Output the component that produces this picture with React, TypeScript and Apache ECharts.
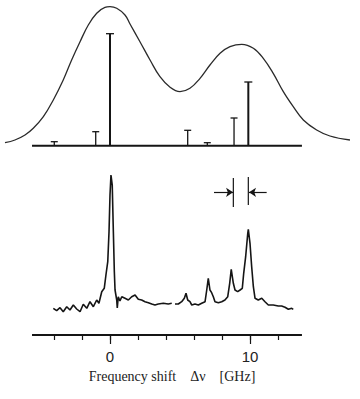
import React, { useEffect, useRef } from "react";
import * as echarts from "echarts";

// Calculated envelope (upper panel), frequency shift in GHz and relative intensity
const envelopeGHz = [-7.5, -6.79, -6.07, -5.48, -4.76, -4.05, -3.34, -2.74, -2.14, -1.55, -0.95, -0.36, 0, 0.48, 1.07, 1.43, 2.14, 2.86, 3.57, 4.29, 5.0, 5.71, 6.43, 7.14, 7.86, 8.57, 9.41, 10.24, 10.95, 11.66, 12.38, 13.09, 13.81, 14.76, 15.71, 17.14];
const envelopeValue = [3.0, 5.7, 10.7, 17.4, 29, 45.7, 65.7, 85.7, 104, 120.7, 132.4, 138.4, 139, 137.4, 130.7, 121.7, 104, 85.7, 69, 58.4, 54, 57.4, 67.4, 80.7, 92.4, 99, 101.4, 97.4, 87.4, 72.4, 54, 39, 25.7, 15.7, 9.7, 5.7];

// Stick spectrum (upper panel)
const stickGHz = [-3.98, -1.02, 0, 5.55, 6.95, 8.86, 9.88];
const stickHeight = [4, 14, 112, 15.4, 3, 27.7, 63.7];

// Measured spectrum (lower panel); null = gap in the trace
const spectrumGHz = [-4.05, -3.81, -3.57, -3.34, -3.09, -2.86, -2.62, -2.38, -2.14, -1.91, -1.66, -1.43, -1.19, -0.95, -0.79, -0.59, -0.41, -0.29, -0.16, -0.07, 0, 0.07, 0.16, 0.24, 0.31, 0.36, 0.48, 0.52, 0.59, 0.71, 0.84, 1.07, 1.31, 1.55, 1.79, 2.02, 2.26, 2.5, 2.74, 2.98, 3.21, 3.45, 3.81, 4.16, 4.41, 4.52, 4.64, 4.88, 5.12, 5.31, 5.43, 5.55, 5.71, 5.84, 6.07, 6.31, 6.55, 6.79, 6.91, 7.02, 7.14, 7.26, 7.38, 7.5, 7.74, 7.98, 8.21, 8.41, 8.55, 8.66, 8.81, 8.93, 9.12, 9.29, 9.45, 9.55, 9.69, 9.84, 9.88, 10.0, 10.12, 10.24, 10.36, 10.59, 10.84, 11.07, 11.31, 11.66, 12.02, 12.26, 12.5, 12.74, 12.98, 13.09];
const spectrumValue: (number | null)[] = [26.7, 24.3, 27.3, 23.3, 28.3, 25, 30, 26, 23.3, 30.7, 26.7, 33.3, 28.3, 35, 31.7, 43.3, 46.7, 60, 73.3, 103.3, 140, 160, 150, 103.3, 63.3, 45, 35, 27, 38.3, 34, 38.3, 36.7, 35, 38.3, 40, 35.7, 35, 33.3, 32.3, 31, 30, 31, 31.7, 31, 31.7, null, 31, 31, 33.3, 36.7, 41.7, 35, 33.3, 30, 31, 30, 31.7, 33.3, 45, 56.7, 45, 42.3, 38.3, 33.3, 32.3, 33.3, 35, 38.3, 51.7, 65.7, 51.7, 45, 43.3, 45, 46.7, 61.7, 78.3, 101.7, 105.7, 91.7, 68.3, 48.3, 36.7, 35, 36.7, 33.3, 30, 30, 29, 29, 27.7, 25.7, 26.7, 25.7];

// Axis
const axisExtentGHz = [-5.57, 13.71];
const tickValues = [-4, -2, 0, 2, 4, 6, 8, 10, 12];
const labelValues = [0, 10];
const axisTitle = "Frequency shift    Δν    [GHz]";

// Resolution marker (lower panel)
const markerGHz = [8.81, 9.88];
const markerLow = [128, 130];
const markerHigh = [157, 158];
const arrowLevel = 142.7;
const arrowFromGHz = [7.43, 11.19];
const arrowToGHz = [8.79, 9.93];

const X_MIN = -7.5;
const X_MAX = 17.142857;
const INK = "#151515";

export default function App() {
  const ref = useRef<HTMLDivElement>(null);

  useEffect(() => {
    if (!ref.current) return;
    const chart = echarts.init(ref.current, undefined, { renderer: "svg" });

    const gridBase = { left: 5, width: 345, containLabel: false, outerBoundsMode: "none" } as any;
    const hiddenX = (gridIndex: number) => ({ gridIndex, type: "value", min: X_MIN, max: X_MAX, show: false });

    const option: any = {
      animation: false,
      backgroundColor: "#ffffff",
      grid: [
        { ...gridBase, top: 5.7, height: 140 },
        { ...gridBase, top: 170, height: 165 },
        { ...gridBase, top: 170, height: 165 },
      ],
      xAxis: [
        hiddenX(0),
        {
          gridIndex: 1,
          type: "value",
          min: X_MIN,
          max: X_MAX,
          axisLine: { show: false },
          splitLine: { show: false },
          axisTick: { show: true, inside: false, length: 5, customValues: tickValues, lineStyle: { color: INK, width: 1.2 } },
          axisLabel: { show: false },
        },
        {
          gridIndex: 2,
          type: "value",
          min: X_MIN,
          max: X_MAX,
          axisLine: { show: false },
          splitLine: { show: false },
          axisTick: { show: true, inside: false, length: 9, customValues: labelValues, lineStyle: { color: INK, width: 1.2 } },
          axisLabel: {
            show: true,
            customValues: labelValues,
            margin: 14,
            fontSize: 15,
            fontFamily: "Liberation Sans",
            color: "#222",
          },
        },
      ],
      yAxis: [
        { gridIndex: 0, type: "value", min: 0, max: 140, show: false },
        { gridIndex: 1, type: "value", min: 0, max: 165, show: false },
        { gridIndex: 2, type: "value", min: 0, max: 165, show: false },
      ],
      graphic: [
        {
          type: "text",
          x: 172,
          y: 376,
          style: {
            text: axisTitle,
            fontFamily: "Liberation Serif",
            fontSize: 14,
            fill: "#222",
            textAlign: "center",
            textVerticalAlign: "middle",
          },
        },
      ],
      series: [
        {
          type: "line",
          xAxisIndex: 0,
          yAxisIndex: 0,
          data: envelopeGHz.map((x, i) => [x, envelopeValue[i]]),
          smooth: 0.4,
          symbol: "none",
          clip: false,
          silent: true,
          lineStyle: { color: "#2a2a2a", width: 1.3 },
        },
        {
          type: "line",
          xAxisIndex: 0,
          yAxisIndex: 0,
          data: axisExtentGHz.map((x) => [x, 0]),
          symbol: "none",
          clip: false,
          silent: true,
          lineStyle: { color: INK, width: 2 },
        },
        {
          type: "custom",
          xAxisIndex: 0,
          yAxisIndex: 0,
          clip: false,
          silent: true,
          data: stickGHz.map((x, i) => [x, stickHeight[i]]),
          encode: { x: 0, y: 1 },
          renderItem: (params: any, api: any) => {
            const x = api.value(0);
            const h = api.value(1);
            const p0 = api.coord([x, 0]);
            const p1 = api.coord([x, h]);
            const lw = h > 50 ? 2 : 1.3;
            const half = h > 50 ? 4 : 3.5;
            return {
              type: "group",
              children: [
                { type: "line", shape: { x1: p0[0], y1: p0[1], x2: p1[0], y2: p1[1] }, style: { stroke: INK, lineWidth: lw } },
                { type: "line", shape: { x1: p1[0] - half, y1: p1[1], x2: p1[0] + half, y2: p1[1] }, style: { stroke: INK, lineWidth: 1.3 } },
              ],
            };
          },
        },
        {
          type: "line",
          xAxisIndex: 1,
          yAxisIndex: 1,
          data: axisExtentGHz.map((x) => [x, 0]),
          symbol: "none",
          clip: false,
          silent: true,
          lineStyle: { color: INK, width: 1.8 },
        },
        {
          type: "line",
          xAxisIndex: 1,
          yAxisIndex: 1,
          data: spectrumGHz.map((x, i) => [x, spectrumValue[i] === null ? "-" : spectrumValue[i]]),
          connectNulls: false,
          symbol: "none",
          clip: false,
          silent: true,
          lineStyle: { color: INK, width: 1.6 },
          markLine: {
            silent: true,
            symbol: ["none", "arrow"],
            symbolSize: 7,
            label: { show: false },
            lineStyle: { color: INK, width: 1.2, type: "solid" },
            data: arrowFromGHz.map((x, i) => [
              { coord: [x, arrowLevel] },
              { coord: [arrowToGHz[i], arrowLevel] },
            ]),
          },
        },
        {
          type: "custom",
          xAxisIndex: 1,
          yAxisIndex: 1,
          clip: false,
          silent: true,
          data: markerGHz.map((x, i) => [x, markerLow[i], markerHigh[i]]),
          encode: { x: 0, y: [1, 2] },
          renderItem: (params: any, api: any) => {
            const x = api.value(0);
            const a = api.coord([x, api.value(1)]);
            const b = api.coord([x, api.value(2)]);
            return { type: "line", shape: { x1: a[0], y1: a[1], x2: b[0], y2: b[1] }, style: { stroke: INK, lineWidth: 1.2 } };
          },
        },
      ],
    };

    chart.setOption(option);
    return () => chart.dispose();
  }, []);

  return (
    <div
      ref={ref}
      style={{ position: "absolute", left: 0, top: 0, width: 360, height: 399, background: "#fff" }}
    />
  );
}
